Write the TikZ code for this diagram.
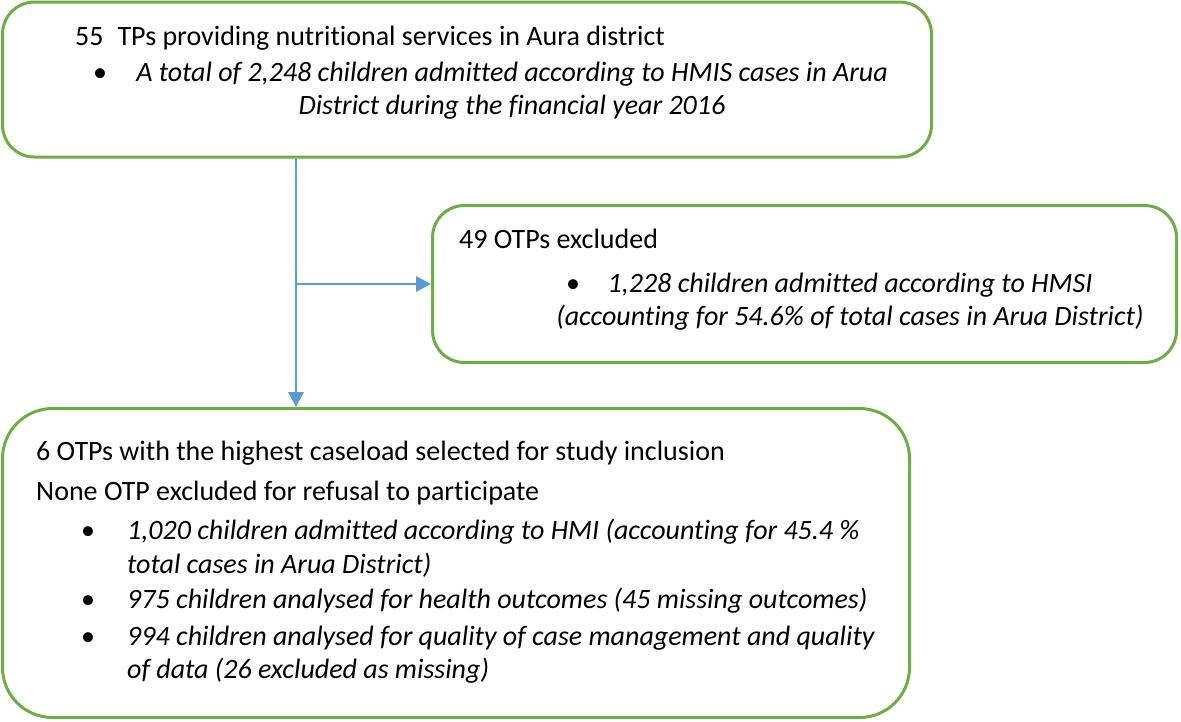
\documentclass[tikz,border=0pt]{standalone}
\usepackage{fontspec}
\usetikzlibrary{arrows.meta}
\setmainfont{Carlito}[Ligatures=NoCommon]
\definecolor{boxgreen}{HTML}{70AD47}
\definecolor{arrblue}{HTML}{5B9BD5}
\begin{document}
\begin{tikzpicture}[x=1pt,y=-1pt,
  box/.style={draw=boxgreen,line width=3pt,rounded corners=#1,inner sep=0pt},
  box/.default=32pt,
  txt/.style={inner sep=0pt,font=\fontsize{28}{33}\selectfont},
  itx/.style={txt,font=\fontsize{28}{33}\selectfont\itshape},
  bul/.style={inner sep=0pt,font=\fontsize{28}{33}\selectfont},
  arr/.style={draw=arrblue,line width=2.8pt,-{Triangle[length=15pt,width=15pt]}}]
\useasboundingbox (0,0) rectangle (1181,721);
% boxes
\node[box, minimum width=929pt, minimum height=155pt] (top) at (467,79.5) {};
\node[box, minimum width=744pt, minimum height=157pt] (mid) at (804.5,284) {};
\node[box=50pt, minimum width=907pt, minimum height=309pt] (bot) at (456,563) {};
% top text
\node[txt,anchor=base west] (t1) at (75,45) {55\hspace{0.5em}TPs providing nutritional services in Aura district};
\node[bul,anchor=base] (tb) at (100,81) {\textbullet};
\node[itx,anchor=base] (t2) at (512,81) {A total of 2,248 children admitted according to HMIS cases in Arua};
\node[itx,anchor=base] (t3) at (512,114) {District during the financial year 2016};
% middle text
\node[txt,anchor=base west] (m1) at (459,248) {49 OTPs excluded};
\node[bul,anchor=base] (mb) at (573,292) {\textbullet};
\node[itx,anchor=base] (m2) at (850,292) {1,228 children admitted according to HMSI};
\node[itx,anchor=base] (m3) at (850,325) {(accounting for 54.6\% of total cases in Arua District)};
% bottom text
\node[txt,anchor=base west] (b1) at (36,460) {6 OTPs with the highest caseload selected for study inclusion};
\node[txt,anchor=base west] (b2) at (36,500) {None OTP excluded for refusal to participate};
\node[bul,anchor=base] (bb1) at (88,539) {\textbullet};
\node[itx,anchor=base west] (b3) at (127,539) {1,020 children admitted according to HMI (accounting for 45.4 \%};
\node[itx,anchor=base west] (b4) at (127,573) {total cases in Arua District)};
\node[bul,anchor=base] (bb2) at (88,608) {\textbullet};
\node[itx,anchor=base west] (b5) at (127,608) {975 children analysed for health outcomes (45 missing outcomes)};
\node[bul,anchor=base] (bb3) at (88,645) {\textbullet};
\node[itx,anchor=base west] (b6) at (127,645) {994 children analysed for quality of case management and quality};
\node[itx,anchor=base west] (b7) at (127,678) {of data (26 excluded as missing)};
% connectors
\coordinate (vx) at (296,0);
\coordinate (j) at (vx |- mid.west);
\draw[arr] (top.south -| vx) -- (bot.north -| vx);
\draw[arr] (j) -- (mid.west);
\end{tikzpicture}
\end{document}
